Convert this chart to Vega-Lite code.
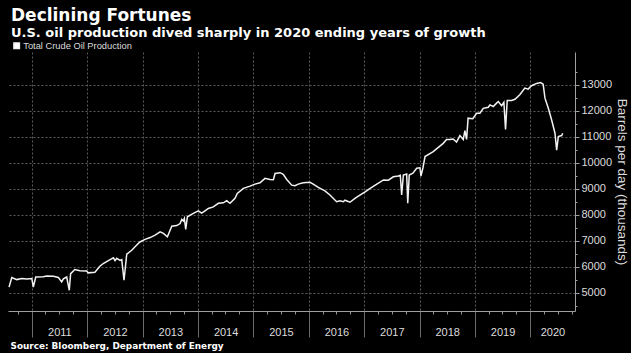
{
  "$schema": "https://vega.github.io/schema/vega-lite/v6.json",
  "width": 567,
  "height": 259,
  "autosize": {"type": "none"},
  "padding": {"left": 8, "top": 52, "right": 56, "bottom": 42},
  "background": "#000000",
  "config": {"view": {"stroke": null}, "font": "Liberation Sans"},
  "title": {
    "text": "Declining Fortunes",
    "subtitle": "U.S. oil production dived sharply in 2020 ending years of growth",
    "anchor": "start",
    "frame": "group",
    "font": "DejaVu Sans",
    "color": "#ffffff",
    "fontSize": 17,
    "fontWeight": "bold",
    "subtitleFont": "DejaVu Sans",
    "subtitleColor": "#ffffff",
    "subtitleFontSize": 13,
    "subtitleFontWeight": "bold",
    "subtitlePadding": 2,
    "offset": 0,
    "dx": 3
  },
  "data": {
    "values": [
      {"date": "2010-08-04", "value": 5215},
      {"date": "2010-08-22", "value": 5580},
      {"date": "2010-09-24", "value": 5500},
      {"date": "2010-10-27", "value": 5540},
      {"date": "2010-11-29", "value": 5520},
      {"date": "2011-01-01", "value": 5540},
      {"date": "2011-01-11", "value": 5215},
      {"date": "2011-01-27", "value": 5600},
      {"date": "2011-03-18", "value": 5610},
      {"date": "2011-04-09", "value": 5640},
      {"date": "2011-05-23", "value": 5630},
      {"date": "2011-06-25", "value": 5580},
      {"date": "2011-07-17", "value": 5410},
      {"date": "2011-07-28", "value": 5530},
      {"date": "2011-08-19", "value": 5600},
      {"date": "2011-09-05", "value": 5090},
      {"date": "2011-09-14", "value": 5730},
      {"date": "2011-10-12", "value": 5890},
      {"date": "2011-11-14", "value": 5840},
      {"date": "2011-12-28", "value": 5830},
      {"date": "2012-01-08", "value": 5760},
      {"date": "2012-02-21", "value": 5780},
      {"date": "2012-03-25", "value": 6015},
      {"date": "2012-04-16", "value": 6120},
      {"date": "2012-05-31", "value": 6270},
      {"date": "2012-06-22", "value": 6340},
      {"date": "2012-07-03", "value": 6230},
      {"date": "2012-07-14", "value": 6320},
      {"date": "2012-08-05", "value": 6240},
      {"date": "2012-08-16", "value": 6270},
      {"date": "2012-08-31", "value": 5475},
      {"date": "2012-09-18", "value": 6480},
      {"date": "2012-10-21", "value": 6630},
      {"date": "2012-11-23", "value": 6830},
      {"date": "2012-12-14", "value": 6950},
      {"date": "2013-01-17", "value": 7050},
      {"date": "2013-02-19", "value": 7120},
      {"date": "2013-03-24", "value": 7210},
      {"date": "2013-04-26", "value": 7340},
      {"date": "2013-05-18", "value": 7280},
      {"date": "2013-06-13", "value": 7150},
      {"date": "2013-07-12", "value": 7560},
      {"date": "2013-08-14", "value": 7580},
      {"date": "2013-09-05", "value": 7660},
      {"date": "2013-09-16", "value": 7820},
      {"date": "2013-09-26", "value": 7760},
      {"date": "2013-10-03", "value": 7860},
      {"date": "2013-10-12", "value": 7430},
      {"date": "2013-10-23", "value": 7920},
      {"date": "2013-12-01", "value": 8050},
      {"date": "2014-01-03", "value": 8150},
      {"date": "2014-01-25", "value": 8060},
      {"date": "2014-02-16", "value": 8150},
      {"date": "2014-03-10", "value": 8240},
      {"date": "2014-04-12", "value": 8300},
      {"date": "2014-05-15", "value": 8440},
      {"date": "2014-06-17", "value": 8460},
      {"date": "2014-07-09", "value": 8540},
      {"date": "2014-07-31", "value": 8440},
      {"date": "2014-09-02", "value": 8630},
      {"date": "2014-09-17", "value": 8820},
      {"date": "2014-10-27", "value": 9015},
      {"date": "2014-12-10", "value": 9100},
      {"date": "2015-01-12", "value": 9180},
      {"date": "2015-02-14", "value": 9230},
      {"date": "2015-03-19", "value": 9400},
      {"date": "2015-04-21", "value": 9360},
      {"date": "2015-05-13", "value": 9350},
      {"date": "2015-05-24", "value": 9590},
      {"date": "2015-06-26", "value": 9620},
      {"date": "2015-07-17", "value": 9560},
      {"date": "2015-08-09", "value": 9360},
      {"date": "2015-09-11", "value": 9140},
      {"date": "2015-10-02", "value": 9120},
      {"date": "2015-10-24", "value": 9180},
      {"date": "2015-11-26", "value": 9230},
      {"date": "2016-01-09", "value": 9250},
      {"date": "2016-01-31", "value": 9180},
      {"date": "2016-03-04", "value": 9050},
      {"date": "2016-04-17", "value": 8920},
      {"date": "2016-05-20", "value": 8760},
      {"date": "2016-07-03", "value": 8500},
      {"date": "2016-07-25", "value": 8540},
      {"date": "2016-08-16", "value": 8500},
      {"date": "2016-08-27", "value": 8560},
      {"date": "2016-09-29", "value": 8480},
      {"date": "2016-11-01", "value": 8630},
      {"date": "2016-11-23", "value": 8720},
      {"date": "2017-01-07", "value": 8880},
      {"date": "2017-02-09", "value": 9015},
      {"date": "2017-03-25", "value": 9180},
      {"date": "2017-05-08", "value": 9340},
      {"date": "2017-06-09", "value": 9330},
      {"date": "2017-07-12", "value": 9460},
      {"date": "2017-08-14", "value": 9490},
      {"date": "2017-08-27", "value": 9520},
      {"date": "2017-09-05", "value": 8760},
      {"date": "2017-09-16", "value": 9530},
      {"date": "2017-10-08", "value": 9570},
      {"date": "2017-10-15", "value": 8440},
      {"date": "2017-10-25", "value": 9530},
      {"date": "2017-11-18", "value": 9600},
      {"date": "2017-12-13", "value": 9790},
      {"date": "2018-01-04", "value": 9810},
      {"date": "2018-01-10", "value": 9490},
      {"date": "2018-01-23", "value": 9800},
      {"date": "2018-02-06", "value": 10240},
      {"date": "2018-04-01", "value": 10430},
      {"date": "2018-06-06", "value": 10750},
      {"date": "2018-06-28", "value": 10900},
      {"date": "2018-07-20", "value": 10900},
      {"date": "2018-08-10", "value": 10920},
      {"date": "2018-09-02", "value": 10800},
      {"date": "2018-09-24", "value": 11050},
      {"date": "2018-10-16", "value": 10900},
      {"date": "2018-10-27", "value": 11240},
      {"date": "2018-11-07", "value": 10900},
      {"date": "2018-11-17", "value": 11720},
      {"date": "2018-12-18", "value": 11700},
      {"date": "2019-01-12", "value": 11910},
      {"date": "2019-02-03", "value": 11910},
      {"date": "2019-02-25", "value": 12100},
      {"date": "2019-03-30", "value": 12140},
      {"date": "2019-04-10", "value": 12230},
      {"date": "2019-05-02", "value": 12170},
      {"date": "2019-05-24", "value": 12300},
      {"date": "2019-06-04", "value": 12360},
      {"date": "2019-06-26", "value": 12200},
      {"date": "2019-07-11", "value": 12330},
      {"date": "2019-07-22", "value": 11290},
      {"date": "2019-08-02", "value": 12400},
      {"date": "2019-08-31", "value": 12400},
      {"date": "2019-09-22", "value": 12450},
      {"date": "2019-10-24", "value": 12620},
      {"date": "2019-11-26", "value": 12880},
      {"date": "2019-12-18", "value": 12840},
      {"date": "2020-01-09", "value": 12970},
      {"date": "2020-02-12", "value": 13060},
      {"date": "2020-03-09", "value": 13090},
      {"date": "2020-03-26", "value": 13030},
      {"date": "2020-04-07", "value": 12490},
      {"date": "2020-04-29", "value": 12100},
      {"date": "2020-05-21", "value": 11650},
      {"date": "2020-06-12", "value": 11140},
      {"date": "2020-06-23", "value": 10490},
      {"date": "2020-07-04", "value": 11010},
      {"date": "2020-07-26", "value": 11050},
      {"date": "2020-08-02", "value": 11140}
    ]
  },
  "layer": [
    {
      "mark": {"type": "line", "strokeWidth": 1.5, "interpolate": "linear"},
      "encoding": {
        "x": {
          "field": "date",
          "type": "temporal",
          "scale": {"type": "utc", "domain": [{"year": 2010, "month": 7, "date": 28, "utc": true}, {"year": 2020, "month": 10, "date": 22, "utc": true}]},
          "axis": {
            "orient": "bottom",
            "values": [
              {"year": 2011, "month": 1, "date": 1, "utc": true},
              {"year": 2012, "month": 1, "date": 1, "utc": true},
              {"year": 2013, "month": 1, "date": 1, "utc": true},
              {"year": 2014, "month": 1, "date": 1, "utc": true},
              {"year": 2015, "month": 1, "date": 1, "utc": true},
              {"year": 2016, "month": 1, "date": 1, "utc": true},
              {"year": 2017, "month": 1, "date": 1, "utc": true},
              {"year": 2018, "month": 1, "date": 1, "utc": true},
              {"year": 2019, "month": 1, "date": 1, "utc": true},
              {"year": 2020, "month": 1, "date": 1, "utc": true}
            ],
            "labels": false,
            "title": null,
            "tickSize": 26,
            "tickColor": "#6a6a6a",
            "domainColor": "#a0a0a0",
            "grid": true,
            "gridColor": "#5a5a5a",
            "gridDash": [2, 2]
          }
        },
        "y": {
          "field": "value",
          "type": "quantitative",
          "scale": {"domain": [4290, 14270], "nice": false, "zero": false},
          "axis": {
            "orient": "right",
            "values": [5000, 6000, 7000, 8000, 9000, 10000, 11000, 12000, 13000],
            "format": "d",
            "grid": true,
            "gridColor": "#5a5a5a",
            "gridDash": [2, 2],
            "domainColor": "#a0a0a0",
            "tickColor": "#a0a0a0",
            "tickSize": 4,
            "labelColor": "#dddddd",
            "labelFontSize": 11,
            "labelPadding": 2,
            "title": "Barrels per day (thousands)",
            "titleColor": "#dddddd",
            "titleFontSize": 13.5,
            "titleFontWeight": "normal",
            "titleAngle": 90,
            "titlePadding": 3
          }
        },
        "color": {
          "datum": "Total Crude Oil Production",
          "scale": {"range": ["#f2f2f2"]},
          "legend": {
            "orient": "none",
            "legendX": 4,
            "legendY": -11,
            "title": null,
            "symbolType": "square",
            "symbolSize": 30,
            "symbolFillColor": "#ffffff",
            "symbolStrokeColor": "#ffffff",
            "labelColor": "#dddddd",
            "labelFontSize": 9.3,
            "labelOffset": 2,
            "padding": 0,
            "encode": {"symbols": {"update": {"fill": {"value": "#ffffff"}, "stroke": {"value": "#ffffff"}}}}
          }
        }
      }
    },
    {
      "mark": {"type": "line", "opacity": 0},
      "encoding": {
        "x": {
          "field": "date",
          "type": "temporal",
          "scale": {"type": "utc", "domain": [{"year": 2010, "month": 7, "date": 28, "utc": true}, {"year": 2020, "month": 10, "date": 22, "utc": true}]},
          "axis": {
            "orient": "bottom",
            "values": [
              {"year": 2010, "month": 10, "date": 1, "utc": true},
              {"year": 2011, "month": 4, "date": 1, "utc": true},
              {"year": 2011, "month": 7, "date": 1, "utc": true},
              {"year": 2011, "month": 10, "date": 1, "utc": true},
              {"year": 2012, "month": 4, "date": 1, "utc": true},
              {"year": 2012, "month": 7, "date": 1, "utc": true},
              {"year": 2012, "month": 10, "date": 1, "utc": true},
              {"year": 2013, "month": 4, "date": 1, "utc": true},
              {"year": 2013, "month": 7, "date": 1, "utc": true},
              {"year": 2013, "month": 10, "date": 1, "utc": true},
              {"year": 2014, "month": 4, "date": 1, "utc": true},
              {"year": 2014, "month": 7, "date": 1, "utc": true},
              {"year": 2014, "month": 10, "date": 1, "utc": true},
              {"year": 2015, "month": 4, "date": 1, "utc": true},
              {"year": 2015, "month": 7, "date": 1, "utc": true},
              {"year": 2015, "month": 10, "date": 1, "utc": true},
              {"year": 2016, "month": 4, "date": 1, "utc": true},
              {"year": 2016, "month": 7, "date": 1, "utc": true},
              {"year": 2016, "month": 10, "date": 1, "utc": true},
              {"year": 2017, "month": 4, "date": 1, "utc": true},
              {"year": 2017, "month": 7, "date": 1, "utc": true},
              {"year": 2017, "month": 10, "date": 1, "utc": true},
              {"year": 2018, "month": 4, "date": 1, "utc": true},
              {"year": 2018, "month": 7, "date": 1, "utc": true},
              {"year": 2018, "month": 10, "date": 1, "utc": true},
              {"year": 2019, "month": 4, "date": 1, "utc": true},
              {"year": 2019, "month": 7, "date": 1, "utc": true},
              {"year": 2019, "month": 10, "date": 1, "utc": true},
              {"year": 2020, "month": 4, "date": 1, "utc": true},
              {"year": 2020, "month": 7, "date": 1, "utc": true},
              {"year": 2020, "month": 10, "date": 1, "utc": true}
            ],
            "labels": false,
            "title": null,
            "domain": false,
            "grid": false,
            "tickSize": 3,
            "tickColor": "#909090"
          }
        },
        "y": {
          "field": "value",
          "type": "quantitative",
          "scale": {"domain": [4290, 14270], "nice": false, "zero": false},
          "axis": {
            "orient": "right",
            "values": [4500, 5500, 6500, 7500, 8500, 9500, 10500, 11500, 12500, 13500],
            "labels": false,
            "title": null,
            "domain": false,
            "grid": false,
            "tickSize": 2,
            "tickColor": "#a0a0a0"
          }
        }
      }
    },
    {
      "mark": {"type": "line", "opacity": 0},
      "encoding": {
        "x": {
          "field": "date",
          "type": "temporal",
          "scale": {"type": "utc", "domain": [{"year": 2010, "month": 7, "date": 28, "utc": true}, {"year": 2020, "month": 10, "date": 22, "utc": true}]},
          "axis": {
            "orient": "bottom",
            "values": [
              {"year": 2011, "month": 7, "date": 2, "utc": true},
              {"year": 2012, "month": 7, "date": 2, "utc": true},
              {"year": 2013, "month": 7, "date": 2, "utc": true},
              {"year": 2014, "month": 7, "date": 2, "utc": true},
              {"year": 2015, "month": 7, "date": 2, "utc": true},
              {"year": 2016, "month": 7, "date": 2, "utc": true},
              {"year": 2017, "month": 7, "date": 2, "utc": true},
              {"year": 2018, "month": 7, "date": 2, "utc": true},
              {"year": 2019, "month": 7, "date": 2, "utc": true},
              {"year": 2020, "month": 5, "date": 26, "utc": true}
            ],
            "format": "%Y",
            "ticks": false,
            "tickSize": 0,
            "domain": false,
            "grid": false,
            "labelColor": "#dddddd",
            "labelFontSize": 11,
            "labelPadding": 15,
            "title": "Source: Bloomberg, Department of Energy",
            "titleAnchor": "start",
            "titleAlign": "left",
            "titleBaseline": "alphabetic",
            "titleX": 2,
            "titleY": 37,
            "titleFont": "DejaVu Sans",
            "titleFontSize": 8.9,
            "titleFontWeight": "bold",
            "titleColor": "#ffffff"
          }
        },
        "y": {
          "field": "value",
          "type": "quantitative",
          "scale": {"domain": [4290, 14270], "nice": false, "zero": false},
          "axis": null
        }
      }
    }
  ],
  "resolve": {"axis": {"x": "independent", "y": "independent"}}
}
